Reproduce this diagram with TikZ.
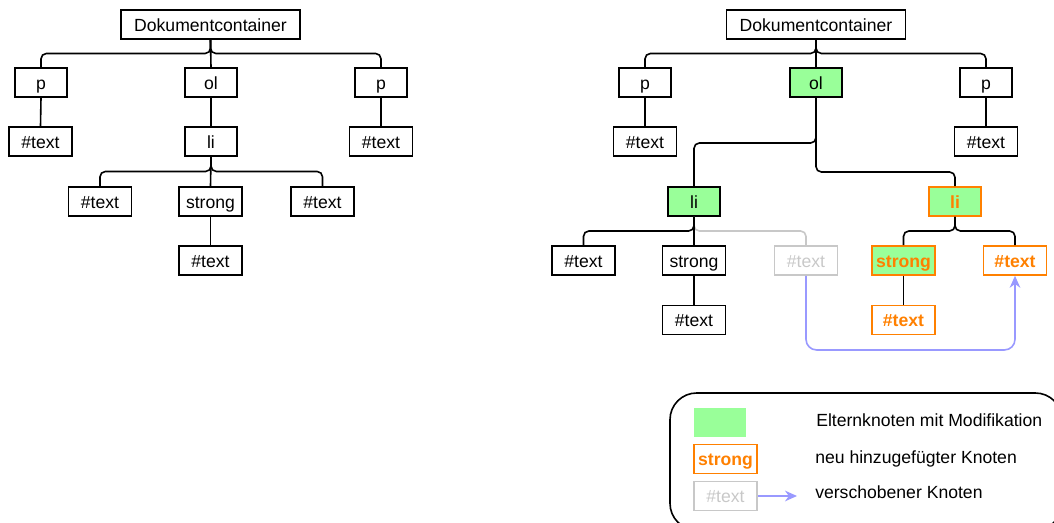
\documentclass[tikz,border=0pt]{standalone}
\usepackage{fontspec}
\setmainfont{Liberation Sans}
\usetikzlibrary{arrows.meta,calc}
\definecolor{modgreen}{RGB}{153,255,153}
\definecolor{neworange}{RGB}{255,128,0}
\definecolor{movedgray}{RGB}{200,200,200}
\definecolor{moveblue}{RGB}{153,153,255}
\tikzset{
  box/.style={draw, line width=1.2pt, minimum height=21.75pt, inner sep=0pt,
    text height=10.6pt, text depth=0.8pt,
    font=\fontsize{13.2}{15}\selectfont},
  narrow/.style={box, minimum width=39pt},
  wide/.style={box, minimum width=47.25pt},
  root/.style={box, minimum width=134.25pt},
  modified/.style={fill=modgreen},
  added/.style={draw=neworange, text=neworange, font=\fontsize{13.2}{15}\selectfont\bfseries},
  moved/.style={draw=movedgray, text=movedgray},
  edge/.style={line width=1.2pt, rounded corners=4pt},
  movededge/.style={edge, draw=movedgray},
  movearrow/.style={line width=1.2pt, draw=moveblue, rounded corners=8pt,
    -{Stealth[length=9pt, width=8pt]}},
  legendtext/.style={anchor=base west, inner sep=0pt, font=\fontsize{13.2}{15}\selectfont},
}
\begin{document}
\begin{tikzpicture}[x=0.75pt, y=-0.75pt]
\clip (0,0) rectangle (1054,523);

% ---------- tree before the change ----------
\node[root]   (doc1) at (210.5,24.5) {Dokumentcontainer};
\node[narrow] (p1a)  at (41,82.5)    {p};
\node[narrow] (ol1)  at (211,82.5)   {ol};
\node[narrow] (p1b)  at (381,82.5)   {p};
\node[wide]   (t1a)  at (40.5,141.5) {\#text};
\node[narrow] (li1)  at (211,141.5)  {li};
\node[wide]   (t1b)  at (381,141.5)  {\#text};
\node[wide]   (t1c)  at (100,201.5)  {\#text};
\node[wide]   (st1)  at (210.5,201.5){strong};
\node[wide]   (t1d)  at (322.5,201.5){\#text};
\node[wide]   (t1e)  at (210.5,260.5){\#text};

\draw[edge] (doc1.south) |- ($(doc1.south)!.5!(p1a.north)$) -| (p1a.north);
\draw[edge] (doc1.south) |- ($(doc1.south)!.5!(p1b.north)$) -| (p1b.north);
\draw[edge] (doc1.south) -- (ol1.north);
\draw[edge] (p1a.south) -- (t1a.north);
\draw[edge] (ol1.south) -- (li1.north);
\draw[edge] (p1b.south) -- (t1b.north);
\draw[edge] (li1.south) |- ($(li1.south)!.5!(t1c.north)$) -| (t1c.north);
\draw[edge] (li1.south) |- ($(li1.south)!.5!(t1d.north)$) -| (t1d.north);
\draw[edge] (li1.south) -- (st1.north);
\draw[edge] (st1.south) -- (t1e.north);

% ---------- tree after the change ----------
\node[root]   (doc2) at (816,24.5)   {Dokumentcontainer};
\node[narrow] (p2a)  at (645,82.5)   {p};
\node[narrow, modified] (ol2) at (816,82.5) {ol};
\node[narrow] (p2b)  at (986,82.5)   {p};
\node[wide]   (t2a)  at (645,141.5)  {\#text};
\node[wide]   (t2b)  at (986,141.5)  {\#text};
\node[narrow, modified] (li2a) at (694,201.5) {li};
\node[narrow, modified, added] (li2b) at (955,201.5) {li};
\node[wide]   (t2c)  at (583.5,260.5){\#text};
\node[wide]   (st2)  at (694,260.5)  {strong};
\node[wide, moved] (t2m) at (806,260.5) {\#text};
\node[wide, modified, added] (st2n) at (903.5,260.5) {strong};
\node[wide, added] (t2n) at (1015,260.5) {\#text};
\node[wide]   (t2e)  at (694,320)    {\#text};
\node[wide, added] (t2f) at (903.5,320) {\#text};

\draw[edge] (doc2.south) |- ($(doc2.south)!.5!(p2a.north)$) -| (p2a.north);
\draw[edge] (doc2.south) |- ($(doc2.south)!.5!(p2b.north)$) -| (p2b.north);
\draw[edge] (doc2.south) -- (ol2.north);
\draw[edge] (p2a.south) -- (t2a.north);
\draw[edge] (p2b.south) -- (t2b.north);
\draw[edge] (ol2.south) -- (ol2.south |- 0,143) -| (li2a.north);
\draw[edge] (ol2.south) -- (ol2.south |- 0,172) -| (li2b.north);
\draw[movededge] (li2a.south) |- ($(li2a.south)!.5!(t2m.north)$) -| (t2m.north);
\draw[edge] (li2a.south) |- ($(li2a.south)!.5!(t2c.north)$) -| (t2c.north);
\draw[edge] (li2a.south) -- (st2.north);
\draw[edge] (st2.south) -- (t2e.north);
\draw[edge] (li2b.south) |- ($(li2b.south)!.5!(st2n.north)$) -| (st2n.north);
\draw[edge] (li2b.south) |- ($(li2b.south)!.5!(t2n.north)$) -| (t2n.north);
\draw[edge] (st2n.south) -- (t2f.north);
\draw[movearrow] (t2m.south) -- (t2m.south |- 0,350) -| (t2n.south);

% ---------- legend ----------
\draw[line width=1.2pt, rounded corners=20] (670,393) rectangle (1062,530);
\node[fill=modgreen, minimum width=39pt, minimum height=21.4pt, inner sep=0pt] (lg1) at (720,422.5) {};
\node[wide, added] (lg2) at (725.5,459) {strong};
\node[wide, moved] (lg3) at (725.5,496) {\#text};
\coordinate (lgtip) at (797,496);
\draw[line width=1.2pt, draw=moveblue, -{Stealth[length=9pt, width=8pt]}] (lg3.east) -- (lgtip);
\node[legendtext] (lt1) at (816,427) {Elternknoten mit Modifikation};
\node[legendtext] (lt2) at (815,463.5) {neu hinzugefügter Knoten};
\node[legendtext] (lt3) at (815,499) {verschobener Knoten};
\end{tikzpicture}
\end{document}
